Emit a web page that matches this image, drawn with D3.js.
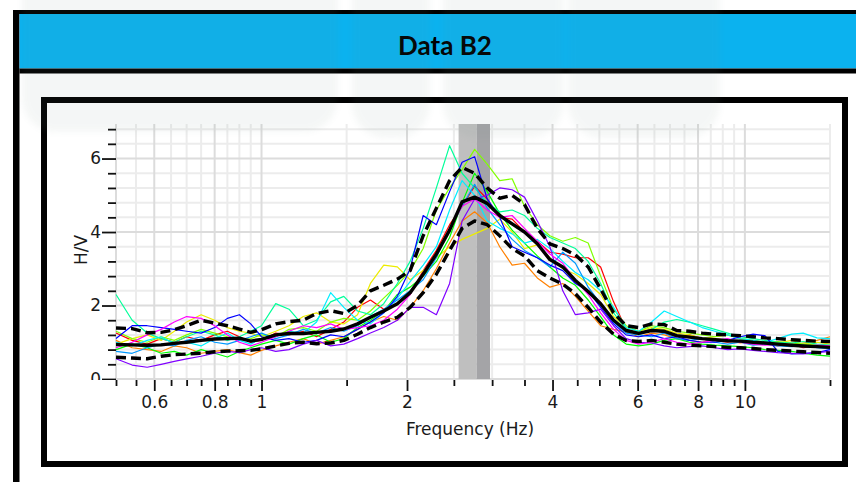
<!DOCTYPE html>
<html>
<head>
<meta charset="utf-8">
<script src="https://cdn.jsdelivr.net/npm/d3@7"></script>
<style>
  html, body { margin: 0; padding: 0; background: #fff; }
  svg { display: block; }
</style>
</head>
<body>
<svg id="chart" width="856" height="482"></svg>
<script>
// ---- H/V spectral ratio data (frequency in Hz) ----
const freqHz = [0.50,0.54,0.58,0.62,0.66,0.70,0.75,0.80,0.85,0.90,
                0.95,1.00,1.07,1.14,1.22,1.30,1.39,1.48,1.58,1.68,
                1.79,1.91,2.03,2.16,2.30,2.45,2.60,2.76,2.93,3.11,
                3.30,3.50,3.72,3.95,4.20,4.46,4.74,5.03,5.35,5.68,
                6.03,6.41,6.81,7.23,7.68,8.16,8.67,9.21,9.78,10.4,
                11.0,11.7,12.5,13.2,14.1,15.0];

// average curve and average ± standard deviation
const meanHV  = [0.94,0.93,0.92,0.93,0.97,1.00,1.05,1.09,1.10,1.11,
                 1.03,1.08,1.20,1.24,1.24,1.27,1.30,1.36,1.50,1.68,
                 1.85,2.05,2.35,2.85,3.40,4.05,4.82,4.95,4.78,4.45,
                 4.22,4.00,3.68,3.25,3.05,2.68,2.38,2.05,1.60,1.32,
                 1.24,1.32,1.30,1.18,1.14,1.10,1.07,1.04,1.03,1.00,
                 0.98,0.95,0.92,0.90,0.88,0.86];
const upperHV = [1.39,1.37,1.26,1.27,1.34,1.45,1.60,1.52,1.45,1.36,
                 1.27,1.34,1.50,1.56,1.60,1.78,1.86,1.78,2.00,2.40,
                 2.55,2.72,2.95,3.90,4.65,5.40,5.76,5.60,5.20,4.92,
                 5.00,4.75,4.10,3.68,3.55,3.38,3.05,2.45,1.80,1.45,
                 1.40,1.50,1.48,1.32,1.30,1.25,1.22,1.20,1.18,1.15,
                 1.12,1.10,1.07,1.05,1.03,1.02];
const lowerHV = [0.59,0.57,0.55,0.62,0.66,0.68,0.70,0.74,0.76,0.77,
                 0.78,0.82,0.90,0.97,1.00,0.96,0.98,1.05,1.22,1.40,
                 1.55,1.68,1.95,2.35,2.85,3.50,4.10,4.30,4.20,3.90,
                 3.55,3.35,2.95,2.75,2.58,2.32,1.95,1.55,1.22,1.05,
                 1.02,1.05,1.00,0.95,0.92,0.90,0.88,0.86,0.85,0.83,
                 0.80,0.78,0.76,0.74,0.72,0.70];

// individual time-window curves
const winRed     = [1.25,1.05,0.95,1.10,1.00,1.15,1.05,1.20,1.30,1.15,
                    1.00,1.05,1.25,1.20,1.30,1.15,1.35,1.55,1.95,2.15,
                    1.90,2.05,2.30,2.95,3.50,4.20,4.70,5.25,4.90,4.40,
                    4.35,4.00,3.75,3.45,3.40,3.30,3.30,3.05,2.10,1.35,
                    1.25,1.35,1.25,1.15,1.20,1.10,1.05,1.00,1.05,0.95,
                    0.95,0.90,0.95,0.85,0.90,0.88];
const winOrange  = [1.05,0.85,0.80,0.75,0.90,0.85,0.70,0.75,0.80,0.72,
                    0.65,0.78,0.90,1.00,1.10,0.95,1.05,1.15,1.35,1.55,
                    1.70,1.60,1.95,2.40,3.00,3.70,4.30,4.55,4.25,3.60,
                    3.10,3.15,2.75,2.50,2.60,2.25,1.85,1.45,1.35,1.28,
                    1.15,1.25,1.20,1.10,1.05,1.00,1.10,1.05,0.98,1.02,
                    0.95,1.00,0.92,0.98,1.05,1.15];
const winYellow  = [0.95,1.10,1.20,1.05,1.30,1.55,1.75,1.60,1.40,1.30,
                    1.25,1.15,1.30,1.45,1.70,1.80,1.55,1.50,1.75,2.60,
                    3.10,3.05,2.70,2.95,3.30,3.60,3.80,3.95,4.10,4.35,
                    4.00,3.55,3.65,3.30,3.00,2.85,2.60,2.30,1.70,1.40,
                    1.30,1.40,1.35,1.25,1.20,1.10,1.15,1.20,1.10,1.05,
                    1.00,0.98,1.05,0.95,1.00,0.95];
const winLime    = [1.30,1.10,1.00,1.15,1.05,1.20,1.35,1.25,1.15,1.05,
                    1.10,1.20,1.15,1.35,1.40,1.30,1.55,1.65,1.60,1.85,
                    2.20,2.55,2.95,3.55,4.60,5.20,5.70,6.25,5.85,5.40,
                    5.45,4.70,4.20,3.90,3.75,3.85,3.70,2.80,1.90,1.45,
                    1.30,1.45,1.40,1.30,1.25,1.20,1.15,1.20,1.10,1.05,
                    1.00,1.02,0.98,0.95,0.92,0.90];
const winGreen   = [0.80,0.95,0.85,0.70,0.75,0.65,0.80,0.70,0.60,0.75,
                    0.85,0.95,1.05,0.95,1.10,1.20,1.00,1.10,1.40,1.60,
                    1.85,2.30,2.50,2.80,3.20,3.85,4.80,5.60,5.10,4.50,
                    4.05,3.70,3.35,3.05,2.75,2.55,2.15,1.70,1.20,0.95,
                    0.90,0.95,1.05,1.10,1.00,0.95,0.92,0.90,0.88,0.85,
                    0.80,0.78,0.75,0.70,0.65,0.62];
const winSpring  = [2.30,1.60,1.25,1.10,1.00,1.15,1.30,1.20,1.05,1.15,
                    1.30,1.45,2.05,1.90,1.45,1.60,2.10,2.25,1.85,1.75,
                    2.05,2.60,3.20,4.10,5.20,6.35,5.60,5.20,4.80,4.55,
                    4.60,4.45,4.10,3.85,3.70,3.55,3.20,2.60,1.80,1.35,
                    1.25,1.35,1.55,1.62,1.55,1.45,1.35,1.25,1.15,1.10,
                    1.05,1.00,0.98,1.02,0.95,0.92];
const winCyan    = [1.00,0.90,1.05,1.15,0.95,1.00,0.90,1.10,1.25,1.05,
                    0.95,1.10,1.15,1.30,1.25,1.55,2.35,1.95,1.60,1.50,
                    1.80,2.20,2.65,3.10,3.60,4.60,5.40,5.00,4.30,4.10,
                    3.95,3.70,3.80,3.55,3.20,2.90,2.70,2.40,1.95,1.40,
                    1.30,1.55,1.85,1.70,1.55,1.40,1.30,1.20,1.10,1.05,
                    1.00,1.10,1.22,1.25,1.12,1.10];
const winSky     = [0.75,0.70,0.85,0.95,0.90,1.05,1.15,1.00,0.95,1.05,
                    1.15,1.25,1.10,1.20,1.35,1.25,1.40,1.30,1.45,1.70,
                    1.90,2.15,2.40,2.70,3.30,4.10,4.70,5.30,4.65,4.20,
                    3.80,3.50,3.30,3.05,3.45,3.15,2.50,2.05,1.55,1.25,
                    1.20,1.15,1.25,1.10,1.05,1.10,1.00,0.95,1.00,0.92,
                    0.95,0.90,0.88,0.92,0.85,0.82];
const winBlue    = [1.10,1.45,1.45,1.40,1.35,1.30,1.25,1.40,1.65,1.75,
                    1.50,1.15,1.05,1.10,1.00,1.05,1.20,1.15,1.35,1.55,
                    1.80,2.25,3.00,4.45,4.20,5.10,5.90,6.05,4.90,4.40,
                    3.60,3.45,3.30,3.10,2.95,2.60,2.40,1.95,1.50,1.20,
                    1.15,1.20,1.10,1.15,1.05,1.00,1.00,1.05,1.15,1.22,
                    1.18,0.75,0.68,0.70,0.72,0.80];
const winPurple  = [0.55,0.38,0.32,0.40,0.48,0.55,0.62,0.70,0.75,0.72,
                    0.80,0.85,0.75,0.80,0.95,1.05,0.90,0.95,1.10,1.25,
                    1.40,1.60,1.95,1.95,1.75,2.60,4.30,4.90,5.00,5.20,
                    5.15,4.95,4.30,3.60,2.40,1.75,1.80,1.90,1.45,1.10,
                    1.00,0.98,0.90,0.85,0.88,0.90,0.85,0.80,0.82,0.78,
                    0.75,0.72,0.70,0.68,0.72,0.75];
const winMagenta = [0.85,1.00,1.20,1.35,1.55,1.70,1.65,1.45,1.20,1.00,
                    0.90,1.00,1.15,1.30,1.45,1.40,1.50,1.35,1.40,1.45,
                    1.60,1.90,2.30,2.90,3.40,4.10,4.70,4.90,4.60,4.40,
                    4.45,4.10,3.75,3.40,3.15,2.70,2.30,1.80,1.35,1.05,
                    0.95,1.00,1.10,1.00,0.95,1.00,1.05,1.10,1.00,0.95,
                    0.92,0.95,0.90,0.88,0.92,0.90];

const windowCurves = [winRed, winOrange, winYellow, winLime, winGreen, winSpring,
                      winCyan, winSky, winBlue, winPurple, winMagenta];
const windowColors = ["#ff0000", "#ff8000", "#ecec00", "#80ff00", "#00ff00", "#00ff99",
                      "#00eeff", "#0099ff", "#0000ff", "#8000ff", "#ff00ff"];

// peak frequency band: f0/σ, f0, f0·σ
const peakBandHz = [2.557, 2.785, 2.97];

// axis ticks
const xMajorTicks = [0.6, 0.8, 1, 2, 4, 6, 8, 10];
const xMinorTicks = [0.5, 0.55, 0.65, 0.7, 0.75, 0.85, 0.9, 0.95, 1.5, 2.5, 3, 3.5,
                     4.5, 5, 5.5, 6.5, 7, 7.5, 8.5, 9, 9.5, 15];
const yMajorTicks = [0, 2, 4, 6];
const yMinorTicks = [0.4, 0.8, 1.2, 1.6, 2.4, 2.8, 3.2, 3.6, 4.4, 4.8, 5.2, 5.6, 6.4, 6.8];

const titleText = "Data B2";
const xTitle = "Frequency (Hz)";
const yTitle = "H/V";

// ---- drawing ----
const W = 856, H = 482;
const svg = d3.select("#chart");
const axisFont = "'DejaVu Sans', Verdana, sans-serif";

svg.append("rect").attr("width", W).attr("height", H).attr("fill", "#fff");

// page frame with the blue heading band
svg.append("rect").attr("x", 13).attr("y", 10).attr("width", W).attr("height", 4).attr("fill", "#000");
svg.append("rect").attr("x", 13).attr("y", 10).attr("width", 6.5).attr("height", H).attr("fill", "#000");
svg.append("rect").attr("x", 19.5).attr("y", 14).attr("width", W).attr("height", 54.5).attr("fill", "#0bb2ef");
svg.append("rect").attr("x", 19.5).attr("y", 68.5).attr("width", W).attr("height", 5).attr("fill", "#000");

svg.append("text")
  .attr("x", 445).attr("y", 55)
  .attr("text-anchor", "middle")
  .style("font-family", "Lato, 'Open Sans', sans-serif")
  .style("font-weight", 700)
  .style("font-size", "26px")
  .attr("fill", "#000")
  .text(titleText);

// chart box
svg.append("rect")
  .attr("x", 44).attr("y", 100).attr("width", 801).attr("height", 364)
  .attr("fill", "#fff").attr("stroke", "#000").attr("stroke-width", 6);

// scales
const x = d3.scaleLog().domain([0.5, 15]).range([116, 830]);
const y = d3.scaleLinear().domain([0, 6.94]).range([379, 124]);
const [yBottom, yTop] = y.range();
const [xLeft, xRight] = x.range();

// grid
const grid = svg.append("g");
grid.selectAll("line.vmin").data(xMinorTicks.concat([15])).join("line")
  .attr("x1", d => x(d)).attr("x2", d => x(d)).attr("y1", yTop).attr("y2", yBottom)
  .attr("stroke", "#ececec").attr("stroke-width", 2);
grid.selectAll("line.hmin").data(yMinorTicks).join("line")
  .attr("x1", xLeft).attr("x2", xRight).attr("y1", d => y(d)).attr("y2", d => y(d))
  .attr("stroke", "#ececec").attr("stroke-width", 2);
grid.selectAll("line.vmaj").data(xMajorTicks).join("line")
  .attr("x1", d => x(d)).attr("x2", d => x(d)).attr("y1", yTop).attr("y2", yBottom)
  .attr("stroke", "#dcdcdc").attr("stroke-width", 2);
grid.selectAll("line.hmaj").data(yMajorTicks).join("line")
  .attr("x1", xLeft).attr("x2", xRight).attr("y1", d => y(d)).attr("y2", d => y(d))
  .attr("stroke", "#dcdcdc").attr("stroke-width", 2);
grid.append("line").attr("x1", xLeft).attr("x2", xLeft).attr("y1", yTop).attr("y2", yBottom)
  .attr("stroke", "#dcdcdc").attr("stroke-width", 2);

// peak band
svg.append("rect")
  .attr("x", x(peakBandHz[0])).attr("width", x(peakBandHz[1]) - x(peakBandHz[0]))
  .attr("y", yTop).attr("height", yBottom - yTop).attr("fill", "#bfbfbf");
svg.append("rect")
  .attr("x", x(peakBandHz[1])).attr("width", x(peakBandHz[2]) - x(peakBandHz[1]))
  .attr("y", yTop).attr("height", yBottom - yTop).attr("fill", "#a4a4a7");

// curves
const line = d3.line().x((d, i) => x(freqHz[i])).y(d => y(d));
const curves = svg.append("g").attr("fill", "none").attr("stroke-linejoin", "round");
curves.selectAll("path.win").data(windowCurves).join("path")
  .attr("d", d => line(d))
  .attr("stroke", (d, i) => windowColors[i])
  .attr("stroke-width", 1.2);
[upperHV, lowerHV].forEach(v => {
  curves.append("path").attr("d", line(v))
    .attr("stroke", "#000").attr("stroke-width", 3.4).attr("stroke-dasharray", "10,5");
});
curves.append("path").attr("d", line(meanHV))
  .attr("stroke", "#000").attr("stroke-width", 3.4);

// x axis
const styleAxis = g => {
  g.select(".domain").remove();
  g.selectAll(".tick line").attr("stroke", "#111").attr("stroke-width", 1.8);
  g.selectAll(".tick text").attr("fill", "#1a1a1a")
    .style("font-family", axisFont).style("font-size", "17px");
};
svg.append("g").attr("transform", `translate(0,${yBottom + 1})`)
  .call(d3.axisBottom(x).tickValues(xMinorTicks).tickSize(6).tickFormat(""))
  .call(styleAxis);
svg.append("g").attr("transform", `translate(0,${yBottom + 1})`)
  .call(d3.axisBottom(x).tickValues(xMajorTicks).tickSize(11).tickPadding(5).tickFormat(d => String(d)))
  .call(styleAxis);

// y axis (labels clipped at the bottom of the plot)
svg.append("clipPath").attr("id", "yclip")
  .append("rect").attr("x", 50).attr("y", 105).attr("width", 70).attr("height", yBottom + 1 - 105);
const yAxisG = svg.append("g").attr("clip-path", "url(#yclip)");
yAxisG.append("g").attr("transform", `translate(${xLeft},0)`)
  .call(d3.axisLeft(y).tickValues(yMinorTicks).tickSize(8).tickFormat(""))
  .call(styleAxis);
yAxisG.append("g").attr("transform", `translate(${xLeft},0)`)
  .call(d3.axisLeft(y).tickValues(yMajorTicks).tickSize(14).tickPadding(1).tickFormat(d => String(d)))
  .call(styleAxis);

// axis titles
svg.append("text")
  .attr("x", 470).attr("y", 435).attr("text-anchor", "middle")
  .style("font-family", axisFont).style("font-size", "17px").attr("fill", "#1a1a1a")
  .text(xTitle);
svg.append("text")
  .attr("transform", "translate(87,250) rotate(-90)").attr("text-anchor", "middle")
  .style("font-family", axisFont).style("font-size", "17px").attr("fill", "#1a1a1a")
  .text(yTitle);

// faint, soft-edged background emblem across the top of the page
const defs = svg.append("defs");
defs.append("filter").attr("id", "soft").attr("x", "-10%").attr("y", "-10%")
  .attr("width", "120%").attr("height", "120%")
  .append("feGaussianBlur").attr("stdDeviation", 3);
const emblem = svg.append("g").attr("fill", "#6e8c82").attr("opacity", 0.065)
  .attr("filter", "url(#soft)").style("pointer-events", "none");
[[22, 338, 132], [352, 430, 138], [443, 563, 138], [568, 720, 138]].forEach(([x0, x1, yb]) => {
  emblem.append("rect").attr("x", x0).attr("y", -60).attr("width", x1 - x0)
    .attr("height", yb + 60).attr("rx", 34);
});
</script>
</body>
</html>
